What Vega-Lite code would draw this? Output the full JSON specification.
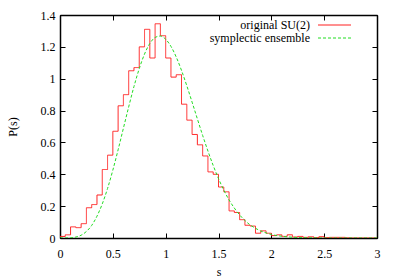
{
  "$schema": "https://vega.github.io/schema/vega-lite/v6.json",
  "width": 317,
  "height": 223,
  "autosize": {"type": "none"},
  "padding": {"left": 60, "top": 15, "right": 22, "bottom": 41},
  "background": "white",
  "config": {
    "view": {"stroke": "#000", "strokeWidth": 1},
    "axis": {
      "labelFont": "Liberation Serif", "labelFontSize": 12, "labelColor": "#000",
      "titleFont": "Liberation Serif", "titleFontSize": 12, "titleFontWeight": "normal", "titleColor": "#000",
      "grid": false, "tickSize": -5, "tickColor": "#000", "tickWidth": 1,
      "domainColor": "#000", "domainWidth": 1.5
    },
    "legend": {
      "labelFont": "Liberation Serif", "labelFontSize": 12, "labelColor": "#000"
    }
  },
  "data": {"values": [
    {"s": 0, "p": 0.01, "series": "original SU(2)"},
    {"s": 0.05, "p": 0.02, "series": "original SU(2)"},
    {"s": 0.1, "p": 0.07, "series": "original SU(2)"},
    {"s": 0.15, "p": 0.065, "series": "original SU(2)"},
    {"s": 0.2, "p": 0.09, "series": "original SU(2)"},
    {"s": 0.25, "p": 0.19, "series": "original SU(2)"},
    {"s": 0.3, "p": 0.21, "series": "original SU(2)"},
    {"s": 0.35, "p": 0.27, "series": "original SU(2)"},
    {"s": 0.4, "p": 0.43, "series": "original SU(2)"},
    {"s": 0.45, "p": 0.52, "series": "original SU(2)"},
    {"s": 0.5, "p": 0.67, "series": "original SU(2)"},
    {"s": 0.55, "p": 0.83, "series": "original SU(2)"},
    {"s": 0.6, "p": 0.9, "series": "original SU(2)"},
    {"s": 0.65, "p": 1.05, "series": "original SU(2)"},
    {"s": 0.7, "p": 1.07, "series": "original SU(2)"},
    {"s": 0.75, "p": 1.2, "series": "original SU(2)"},
    {"s": 0.8, "p": 1.31, "series": "original SU(2)"},
    {"s": 0.85, "p": 1.13, "series": "original SU(2)"},
    {"s": 0.9, "p": 1.345, "series": "original SU(2)"},
    {"s": 0.95, "p": 1.27, "series": "original SU(2)"},
    {"s": 1.0, "p": 1.13, "series": "original SU(2)"},
    {"s": 1.05, "p": 1.01, "series": "original SU(2)"},
    {"s": 1.1, "p": 1.025, "series": "original SU(2)"},
    {"s": 1.15, "p": 0.84, "series": "original SU(2)"},
    {"s": 1.2, "p": 0.74, "series": "original SU(2)"},
    {"s": 1.25, "p": 0.65, "series": "original SU(2)"},
    {"s": 1.3, "p": 0.585, "series": "original SU(2)"},
    {"s": 1.35, "p": 0.515, "series": "original SU(2)"},
    {"s": 1.4, "p": 0.415, "series": "original SU(2)"},
    {"s": 1.45, "p": 0.4, "series": "original SU(2)"},
    {"s": 1.5, "p": 0.32, "series": "original SU(2)"},
    {"s": 1.55, "p": 0.29, "series": "original SU(2)"},
    {"s": 1.6, "p": 0.17, "series": "original SU(2)"},
    {"s": 1.65, "p": 0.16, "series": "original SU(2)"},
    {"s": 1.7, "p": 0.115, "series": "original SU(2)"},
    {"s": 1.75, "p": 0.08, "series": "original SU(2)"},
    {"s": 1.8, "p": 0.075, "series": "original SU(2)"},
    {"s": 1.85, "p": 0.03, "series": "original SU(2)"},
    {"s": 1.9, "p": 0.045, "series": "original SU(2)"},
    {"s": 1.95, "p": 0.03, "series": "original SU(2)"},
    {"s": 2.0, "p": 0.015, "series": "original SU(2)"},
    {"s": 2.05, "p": 0.02, "series": "original SU(2)"},
    {"s": 2.1, "p": 0.01, "series": "original SU(2)"},
    {"s": 2.15, "p": 0.02, "series": "original SU(2)"},
    {"s": 2.2, "p": 0.006, "series": "original SU(2)"},
    {"s": 2.25, "p": 0.01, "series": "original SU(2)"},
    {"s": 2.3, "p": 0.004, "series": "original SU(2)"},
    {"s": 2.35, "p": 0.008, "series": "original SU(2)"},
    {"s": 2.4, "p": 0.003, "series": "original SU(2)"},
    {"s": 2.45, "p": 0.008, "series": "original SU(2)"},
    {"s": 2.5, "p": 0.002, "series": "original SU(2)"},
    {"s": 2.55, "p": 0.004, "series": "original SU(2)"},
    {"s": 2.6, "p": 0.004, "series": "original SU(2)"},
    {"s": 2.65, "p": 0.004, "series": "original SU(2)"},
    {"s": 2.7, "p": 0.001, "series": "original SU(2)"},
    {"s": 2.75, "p": 0, "series": "original SU(2)"},
    {"s": 3.0, "p": 0, "series": "original SU(2)"},
    {"s": 0, "p": 0, "series": "symplectic ensemble"},
    {"s": 0.1, "p": 0.001, "series": "symplectic ensemble"},
    {"s": 0.15, "p": 0.006, "series": "symplectic ensemble"},
    {"s": 0.2, "p": 0.0175, "series": "symplectic ensemble"},
    {"s": 0.25, "p": 0.041, "series": "symplectic ensemble"},
    {"s": 0.3, "p": 0.079, "series": "symplectic ensemble"},
    {"s": 0.35, "p": 0.137, "series": "symplectic ensemble"},
    {"s": 0.4, "p": 0.214, "series": "symplectic ensemble"},
    {"s": 0.45, "p": 0.311, "series": "symplectic ensemble"},
    {"s": 0.5, "p": 0.426, "series": "symplectic ensemble"},
    {"s": 0.55, "p": 0.554, "series": "symplectic ensemble"},
    {"s": 0.6, "p": 0.689, "series": "symplectic ensemble"},
    {"s": 0.65, "p": 0.823, "series": "symplectic ensemble"},
    {"s": 0.7, "p": 0.951, "series": "symplectic ensemble"},
    {"s": 0.75, "p": 1.063, "series": "symplectic ensemble"},
    {"s": 0.8, "p": 1.155, "series": "symplectic ensemble"},
    {"s": 0.85, "p": 1.221, "series": "symplectic ensemble"},
    {"s": 0.9, "p": 1.259, "series": "symplectic ensemble"},
    {"s": 0.95, "p": 1.268, "series": "symplectic ensemble"},
    {"s": 1.0, "p": 1.248, "series": "symplectic ensemble"},
    {"s": 1.05, "p": 1.203, "series": "symplectic ensemble"},
    {"s": 1.1, "p": 1.136, "series": "symplectic ensemble"},
    {"s": 1.15, "p": 1.052, "series": "symplectic ensemble"},
    {"s": 1.2, "p": 0.956, "series": "symplectic ensemble"},
    {"s": 1.25, "p": 0.853, "series": "symplectic ensemble"},
    {"s": 1.3, "p": 0.748, "series": "symplectic ensemble"},
    {"s": 1.35, "p": 0.644, "series": "symplectic ensemble"},
    {"s": 1.4, "p": 0.546, "series": "symplectic ensemble"},
    {"s": 1.45, "p": 0.455, "series": "symplectic ensemble"},
    {"s": 1.5, "p": 0.373, "series": "symplectic ensemble"},
    {"s": 1.55, "p": 0.301, "series": "symplectic ensemble"},
    {"s": 1.6, "p": 0.239, "series": "symplectic ensemble"},
    {"s": 1.65, "p": 0.188, "series": "symplectic ensemble"},
    {"s": 1.7, "p": 0.145, "series": "symplectic ensemble"},
    {"s": 1.75, "p": 0.11, "series": "symplectic ensemble"},
    {"s": 1.8, "p": 0.082, "series": "symplectic ensemble"},
    {"s": 1.85, "p": 0.061, "series": "symplectic ensemble"},
    {"s": 1.9, "p": 0.044, "series": "symplectic ensemble"},
    {"s": 1.95, "p": 0.032, "series": "symplectic ensemble"},
    {"s": 2.0, "p": 0.022, "series": "symplectic ensemble"},
    {"s": 2.1, "p": 0.011, "series": "symplectic ensemble"},
    {"s": 2.2, "p": 0.005, "series": "symplectic ensemble"},
    {"s": 2.3, "p": 0.002, "series": "symplectic ensemble"},
    {"s": 2.4, "p": 0.001, "series": "symplectic ensemble"},
    {"s": 2.5, "p": 0, "series": "symplectic ensemble"},
    {"s": 3.0, "p": 0, "series": "symplectic ensemble"}
  ]},
  "encoding": {
    "x": {"field": "s", "type": "quantitative",
      "scale": {"domain": [0, 3], "nice": false, "zero": false},
      "axis": {"values": [0, 0.5, 1, 1.5, 2, 2.5, 3], "format": "~g", "title": "s", "labelPadding": 15, "titlePadding": 7, "labelFlush": false}},
    "y": {"field": "p", "type": "quantitative",
      "scale": {"domain": [0, 1.4], "nice": false},
      "axis": {"values": [0, 0.2, 0.4, 0.6, 0.8, 1, 1.2, 1.4], "format": "~g", "title": "P(s)", "labelPadding": 10, "titlePadding": 21, "labelFlush": false}},
    "color": {"field": "series", "type": "nominal",
      "scale": {"domain": ["original SU(2)", "symplectic ensemble"], "range": ["#ff2020", "#22dd22"]},
      "legend": {"title": null, "orient": "none", "legendX": 268.5, "legendY": 4, "symbolType": "M-3,0H3", "symbolSize": 121, "symbolStrokeWidth": 1, "labelAlign": "right", "labelOffset": -30.5, "padding": 0, "rowPadding": 1, "labelLimit": 300}},
    "strokeDash": {"field": "series", "type": "nominal",
      "scale": {"domain": ["original SU(2)", "symplectic ensemble"], "range": [[1, 0], [3, 2]]},
      "legend": null}
  },
  "layer": [
    {
      "transform": [{"filter": "datum.series === 'original SU(2)'"}],
      "mark": {"type": "line", "interpolate": "step-after", "strokeWidth": 1, "clip": true}
    },
    {
      "transform": [{"filter": "datum.series === 'symplectic ensemble'"}],
      "mark": {"type": "line", "interpolate": "monotone", "strokeWidth": 1, "clip": true},
      "encoding": {
        "x": {"field": "s", "type": "quantitative", "axis": {"orient": "top", "values": [0, 0.5, 1, 1.5, 2, 2.5, 3], "labels": false, "title": null}},
        "y": {"field": "p", "type": "quantitative", "axis": {"orient": "right", "values": [0, 0.2, 0.4, 0.6, 0.8, 1, 1.2, 1.4], "labels": false, "title": null}}
      }
    }
  ],
  "resolve": {"axis": {"x": "independent", "y": "independent"}}
}
